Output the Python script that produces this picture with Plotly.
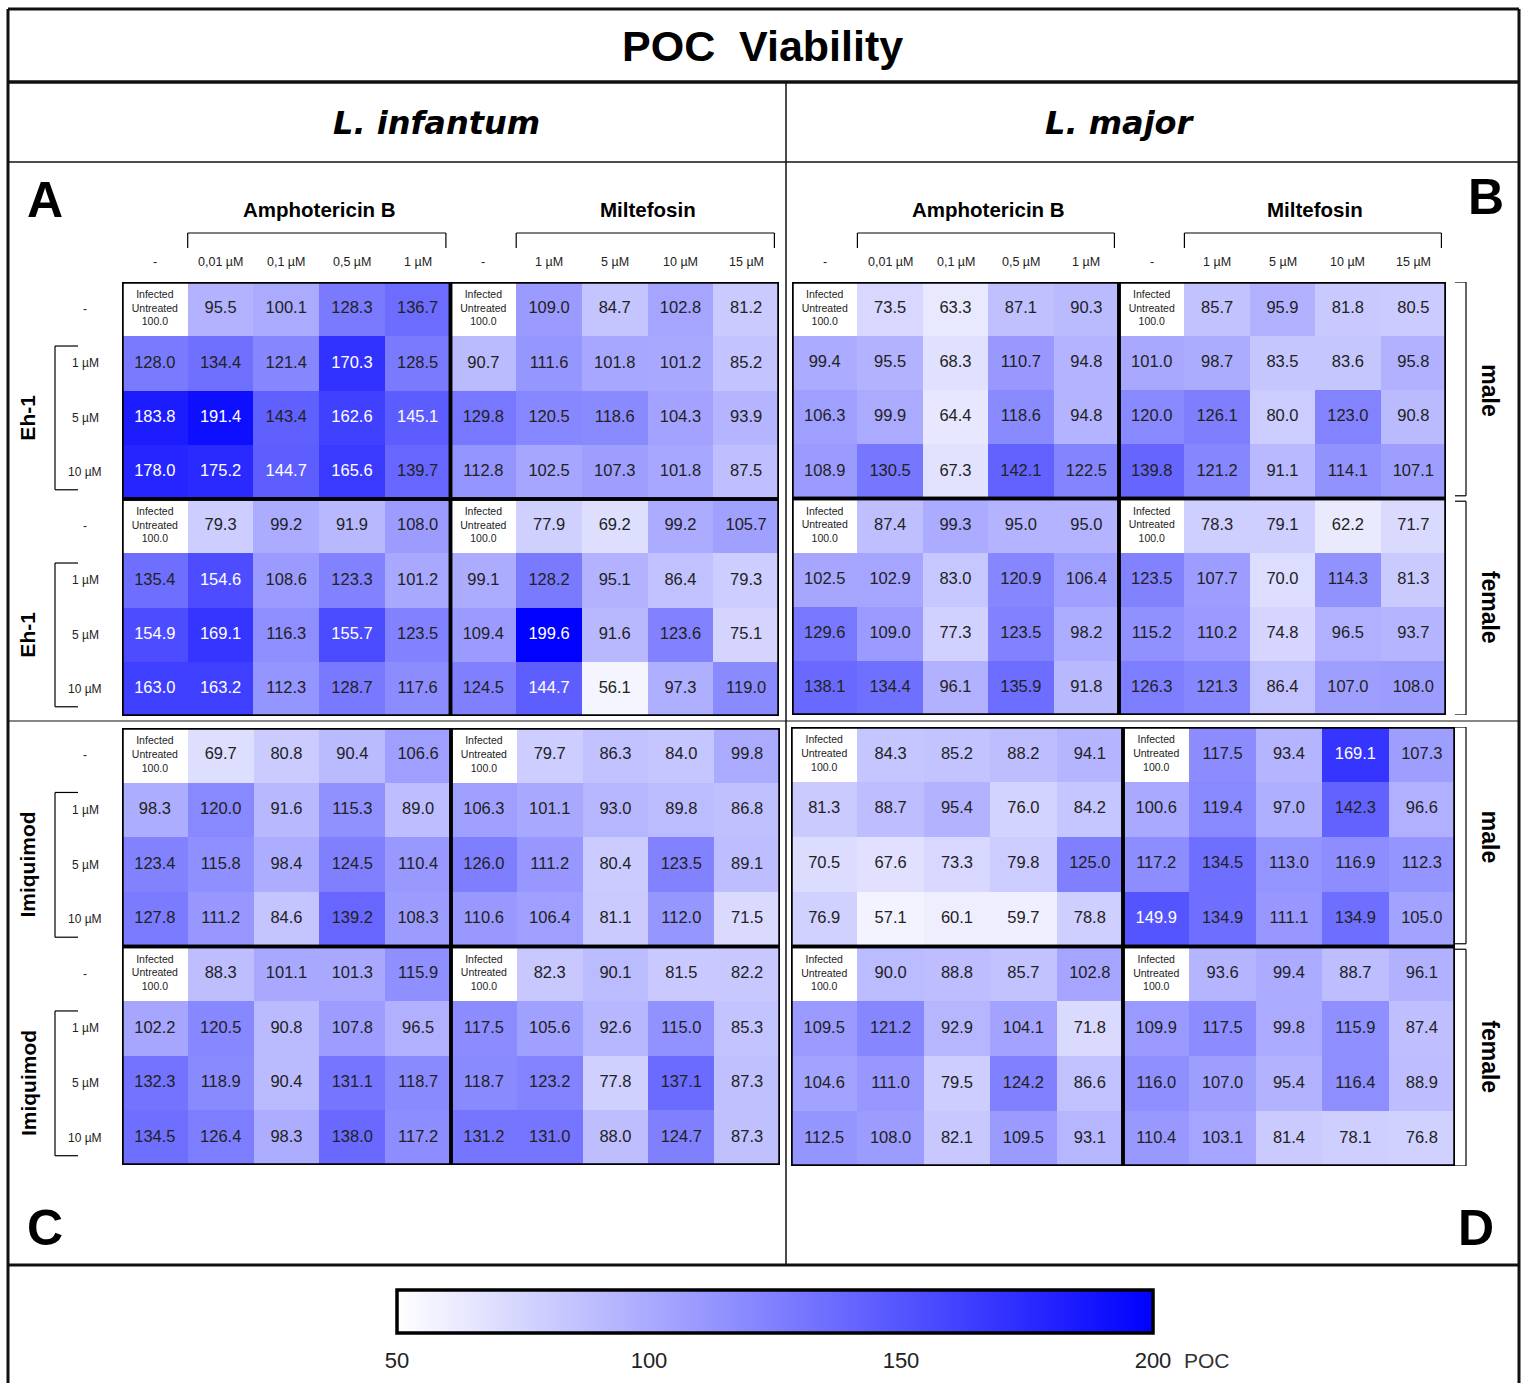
import plotly.graph_objects as go

W, H = 1524, 1383

# ---------------- labels ----------------
amph_cols = ["-", "0,01 µM", "0,1 µM", "0,5 µM", "1 µM"]
milt_cols = ["-", "1 µM", "5 µM", "10 µM", "15 µM"]
row_labels = ["-", "1 µM", "5 µM", "10 µM"]
drug_groups = ["Amphotericin B", "Miltefosin"]
control_label = "Infected<br>Untreated<br>100.0"
colorbar_ticks = [50, 100, 150, 200]

# ---------------- data (POC %) ----------------
# Panel A: L. infantum, Eh-1
A_male_amph = [[None, 95.5, 100.1, 128.3, 136.7], [128.0, 134.4, 121.4, 170.3, 128.5],
               [183.8, 191.4, 143.4, 162.6, 145.1], [178.0, 175.2, 144.7, 165.6, 139.7]]
A_male_milt = [[None, 109.0, 84.7, 102.8, 81.2], [90.7, 111.6, 101.8, 101.2, 85.2],
               [129.8, 120.5, 118.6, 104.3, 93.9], [112.8, 102.5, 107.3, 101.8, 87.5]]
A_female_amph = [[None, 79.3, 99.2, 91.9, 108.0], [135.4, 154.6, 108.6, 123.3, 101.2],
                 [154.9, 169.1, 116.3, 155.7, 123.5], [163.0, 163.2, 112.3, 128.7, 117.6]]
A_female_milt = [[None, 77.9, 69.2, 99.2, 105.7], [99.1, 128.2, 95.1, 86.4, 79.3],
                 [109.4, 199.6, 91.6, 123.6, 75.1], [124.5, 144.7, 56.1, 97.3, 119.0]]
# Panel B: L. major, Eh-1
B_male_amph = [[None, 73.5, 63.3, 87.1, 90.3], [99.4, 95.5, 68.3, 110.7, 94.8],
               [106.3, 99.9, 64.4, 118.6, 94.8], [108.9, 130.5, 67.3, 142.1, 122.5]]
B_male_milt = [[None, 85.7, 95.9, 81.8, 80.5], [101.0, 98.7, 83.5, 83.6, 95.8],
               [120.0, 126.1, 80.0, 123.0, 90.8], [139.8, 121.2, 91.1, 114.1, 107.1]]
B_female_amph = [[None, 87.4, 99.3, 95.0, 95.0], [102.5, 102.9, 83.0, 120.9, 106.4],
                 [129.6, 109.0, 77.3, 123.5, 98.2], [138.1, 134.4, 96.1, 135.9, 91.8]]
B_female_milt = [[None, 78.3, 79.1, 62.2, 71.7], [123.5, 107.7, 70.0, 114.3, 81.3],
                 [115.2, 110.2, 74.8, 96.5, 93.7], [126.3, 121.3, 86.4, 107.0, 108.0]]
# Panel C: L. infantum, Imiquimod
C_male_amph = [[None, 69.7, 80.8, 90.4, 106.6], [98.3, 120.0, 91.6, 115.3, 89.0],
               [123.4, 115.8, 98.4, 124.5, 110.4], [127.8, 111.2, 84.6, 139.2, 108.3]]
C_male_milt = [[None, 79.7, 86.3, 84.0, 99.8], [106.3, 101.1, 93.0, 89.8, 86.8],
               [126.0, 111.2, 80.4, 123.5, 89.1], [110.6, 106.4, 81.1, 112.0, 71.5]]
C_female_amph = [[None, 88.3, 101.1, 101.3, 115.9], [102.2, 120.5, 90.8, 107.8, 96.5],
                 [132.3, 118.9, 90.4, 131.1, 118.7], [134.5, 126.4, 98.3, 138.0, 117.2]]
C_female_milt = [[None, 82.3, 90.1, 81.5, 82.2], [117.5, 105.6, 92.6, 115.0, 85.3],
                 [118.7, 123.2, 77.8, 137.1, 87.3], [131.2, 131.0, 88.0, 124.7, 87.3]]
# Panel D: L. major, Imiquimod
D_male_amph = [[None, 84.3, 85.2, 88.2, 94.1], [81.3, 88.7, 95.4, 76.0, 84.2],
               [70.5, 67.6, 73.3, 79.8, 125.0], [76.9, 57.1, 60.1, 59.7, 78.8]]
D_male_milt = [[None, 117.5, 93.4, 169.1, 107.3], [100.6, 119.4, 97.0, 142.3, 96.6],
               [117.2, 134.5, 113.0, 116.9, 112.3], [149.9, 134.9, 111.1, 134.9, 105.0]]
D_female_amph = [[None, 90.0, 88.8, 85.7, 102.8], [109.5, 121.2, 92.9, 104.1, 71.8],
                 [104.6, 111.0, 79.5, 124.2, 86.6], [112.5, 108.0, 82.1, 109.5, 93.1]]
D_female_milt = [[None, 93.6, 99.4, 88.7, 96.1], [109.9, 117.5, 99.8, 115.9, 87.4],
                 [116.0, 107.0, 95.4, 116.4, 88.9], [110.4, 103.1, 81.4, 78.1, 76.8]]

SANS = "Liberation Sans, Arial, sans-serif"
NARROW = SANS


def px(x):
    return x / W


def py(y):
    return 1 - y / H


def build(male_amph, male_milt, female_amph, female_milt):
    blocks = [(male_amph, male_milt), (female_amph, female_milt)]
    z = []
    for a, m in blocks:
        for ra, rm in zip(a, m):
            z.append(list(ra) + list(rm))
    return z


panels = [
    dict(name="A", z=build(A_male_amph, A_male_milt, A_female_amph, A_female_milt),
         box=(122, 779, 282, 716), top=True, left="Eh-1", right=False),
    dict(name="B", z=build(B_male_amph, B_male_milt, B_female_amph, B_female_milt),
         box=(792, 1446, 282, 715), top=True, left=None, right=True),
    dict(name="C", z=build(C_male_amph, C_male_milt, C_female_amph, C_female_milt),
         box=(122, 780, 728, 1165), top=False, left="Imiquimod", right=False),
    dict(name="D", z=build(D_male_amph, D_male_milt, D_female_amph, D_female_milt),
         box=(791, 1455, 727, 1166), top=False, left=None, right=True),
]

fig = go.Figure()
shapes = []
annotations = []
layout_axes = {}

for k, p in enumerate(panels):
    sfx = "" if k == 0 else str(k + 1)
    xa, ya = "x" + sfx, "y" + sfx
    x0, x1, y0, y1 = p["box"]
    layout_axes["xaxis" + sfx] = dict(domain=[px(x0), px(x1)], range=[-0.5, 9.5], anchor=ya,
                                      showgrid=False, zeroline=False, showticklabels=False,
                                      ticks="", showline=False, fixedrange=True)
    layout_axes["yaxis" + sfx] = dict(domain=[py(y1), py(y0)], range=[7.5, -0.5], anchor=xa,
                                      showgrid=False, zeroline=False, showticklabels=False,
                                      ticks="", showline=False, fixedrange=True)
    z = p["z"]
    nrows, ncols = len(z), len(z[0])
    fig.add_trace(go.Heatmap(z=z, x=list(range(ncols)), y=list(range(nrows)),
                             coloraxis="coloraxis", xaxis=xa, yaxis=ya, hoverinfo="skip",
                             showscale=False))
    tx, ty, tt, tc, ts = [], [], [], [], []
    for r in range(nrows):
        for c in range(ncols):
            v = z[r][c]
            tx.append(c)
            ty.append(r)
            if v is None:
                tt.append(control_label)
                tc.append("#222222")
                ts.append(10.5)
            else:
                tt.append(f"{v:.1f}")
                tc.append("white" if v > 144 else "#222222")
                ts.append(16.5)
    fig.add_trace(go.Scatter(x=tx, y=ty, text=tt, mode="text", xaxis=xa, yaxis=ya,
                             textfont=dict(family=NARROW, size=ts, color=tc),
                             hoverinfo="skip", showlegend=False))
    # block borders
    for r0 in (0, 4):
        for c0 in (0, 5):
            shapes.append(dict(type="rect", xref=xa, yref=ya, x0=c0 - 0.5, x1=c0 + 4.5,
                               y0=r0 - 0.5, y1=r0 + 3.5, line=dict(color="black", width=3.5)))
    # column headers
    if p["top"]:
        for gi, (grp, cols) in enumerate(zip(drug_groups, [amph_cols, milt_cols])):
            c0 = gi * 5
            for ci, lab in enumerate(cols):
                annotations.append(dict(xref=xa, yref="paper", x=c0 + ci, y=py(262), text=lab,
                                        font=dict(family=NARROW, size=12.5, color="#222")))
            annotations.append(dict(xref=xa, yref="paper", x=c0 + 2.5, y=py(210),
                                    text="<b>" + grp + "</b>",
                                    font=dict(family=NARROW, size=20.5, color="black")))
            bx0, bx1 = c0 + 0.5, c0 + 4.43
            shapes.append(dict(type="line", xref=xa, yref="paper", x0=bx0, x1=bx1,
                               y0=py(233), y1=py(233), line=dict(color="black", width=1.2)))
            for bx in (bx0, bx1):
                shapes.append(dict(type="line", xref=xa, yref="paper", x0=bx, x1=bx,
                                   y0=py(233), y1=py(248), line=dict(color="black", width=1.2)))
    # left row labels and brackets
    if p["left"]:
        for r0 in (0, 4):
            for ri, lab in enumerate(row_labels):
                annotations.append(dict(xref="paper", yref=ya, x=px(85), y=r0 + ri, text=lab,
                                        font=dict(family=SANS, size=12, color="#222")))
            shapes.append(dict(type="line", xref="paper", yref=ya, x0=px(55), x1=px(55),
                               y0=r0 + 0.68, y1=r0 + 3.33, line=dict(color="black", width=1.2)))
            for yy in (r0 + 0.68, r0 + 3.33):
                shapes.append(dict(type="line", xref="paper", yref=ya, x0=px(55), x1=px(78),
                                   y0=yy, y1=yy, line=dict(color="black", width=1.2)))
            annotations.append(dict(xref="paper", yref=ya, x=px(28), y=r0 + 2.0,
                                    text="<b>" + p["left"] + "</b>", textangle=-90,
                                    font=dict(family=NARROW, size=21, color="black")))
    # right sex brackets
    if p["right"]:
        for (ya0, ya1), sex, yc in (((-0.5, 3.45), "male", 1.5), ((3.55, 7.5), "female", 5.5)):
            shapes.append(dict(type="line", xref="paper", yref=ya, x0=px(1466), x1=px(1466),
                               y0=ya0, y1=ya1, line=dict(color="black", width=1.2)))
            for yy in (ya0, ya1):
                shapes.append(dict(type="line", xref="paper", yref=ya, x0=px(1455), x1=px(1466),
                                   y0=yy, y1=yy, line=dict(color="black", width=1.2)))
            annotations.append(dict(xref="paper", yref=ya, x=px(1490), y=yc,
                                    text="<b>" + sex + "</b>", textangle=90,
                                    font=dict(family=NARROW, size=23, color="black")))

# ---------------- frame lines ----------------
frame = [
    (8, 9, 1519, 9, 3), (8, 82, 1519, 82, 3.5), (8, 162, 1519, 162, 1.5),
    (786, 82, 786, 1265, 1.5), (8, 721, 1519, 721, 1.2), (8, 1265, 1519, 1265, 3),
    (8, 9, 8, 1383, 3), (1519, 9, 1519, 1383, 3),
]
for (fx0, fy0, fx1, fy1, lw) in frame:
    shapes.append(dict(type="line", xref="paper", yref="paper", x0=px(fx0), y0=py(fy0),
                       x1=px(fx1), y1=py(fy1), line=dict(color="#111", width=lw)))

# ---------------- titles ----------------
annotations += [
    dict(x=px(763), y=py(46), text="<b>POC  Viability</b>", font=dict(family=SANS, size=43, color="black")),
    dict(x=px(436), y=py(123), text="<b><i>L. infantum</i></b>", font=dict(family="DejaVu Sans, " + SANS, size=32, color="black")),
    dict(x=px(1120), y=py(123), text="<b><i>L. major</i></b>", font=dict(family="DejaVu Sans, " + SANS, size=32, color="black")),
    dict(x=px(45), y=py(200), text="<b>A</b>", font=dict(family=SANS, size=50, color="black")),
    dict(x=px(1486), y=py(197), text="<b>B</b>", font=dict(family=SANS, size=50, color="black")),
    dict(x=px(45), y=py(1228), text="<b>C</b>", font=dict(family=SANS, size=50, color="black")),
    dict(x=px(1476), y=py(1228), text="<b>D</b>", font=dict(family=SANS, size=50, color="black")),
    dict(x=px(1207), y=py(1360), text="POC", font=dict(family=SANS, size=21, color="#333")),
]
for a in annotations:
    a.setdefault("xref", "paper")
    a.setdefault("yref", "paper")
    a["showarrow"] = False
    a["xanchor"] = "center"
    a["yanchor"] = "middle"

# ---------------- colorbar ----------------
cb_x0, cb_x1, cb_y0, cb_y1 = 397, 1153, 1290, 1333
for v in colorbar_ticks[1:-1]:
    xv = cb_x0 + (v - colorbar_ticks[0]) / (colorbar_ticks[-1] - colorbar_ticks[0]) * (cb_x1 - cb_x0)
    for (ya0, ya1) in ((cb_y0, cb_y0 + 7), (cb_y1 - 7, cb_y1)):
        shapes.append(dict(type="line", xref="paper", yref="paper", x0=px(xv), x1=px(xv),
                           y0=py(ya0), y1=py(ya1), line=dict(color="black", width=3)))

fig.update_layout(
    width=W, height=H, margin=dict(l=0, r=0, t=0, b=0),
    paper_bgcolor="white", plot_bgcolor="white", showlegend=False,
    coloraxis=dict(
        colorscale=[[0, "#ffffff"], [1, "#0000ff"]], cmin=50, cmax=200,
        colorbar=dict(orientation="h", x=px((cb_x0 + cb_x1) / 2), xanchor="center",
                      y=py(cb_y0), yanchor="top", len=cb_x1 - cb_x0, lenmode="pixels",
                      thickness=cb_y1 - cb_y0, thicknessmode="pixels",
                      outlinewidth=3.5, outlinecolor="black", xpad=0, ypad=0,
                      tickvals=colorbar_ticks, ticks="outside", ticklen=7,
                      tickcolor="rgba(0,0,0,0)",
                      tickfont=dict(family=SANS, size=22, color="#222")),
    ),
    shapes=shapes, annotations=annotations, **layout_axes,
)

fig.write_html("out.html")
